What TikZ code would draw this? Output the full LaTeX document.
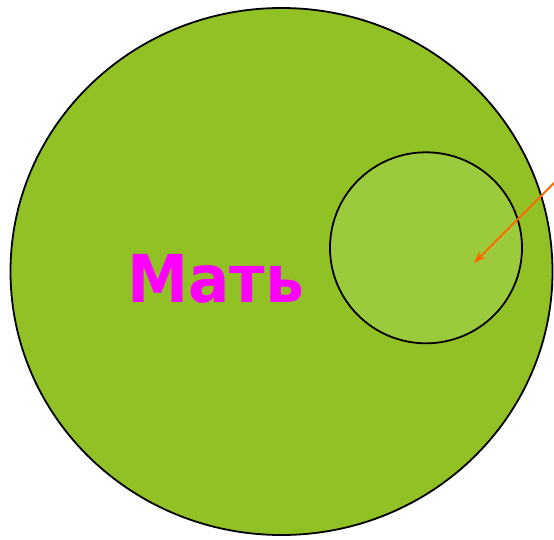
\documentclass[tikz,border=0pt]{standalone}
\usepackage{fontspec}
\setmainfont{DejaVu Sans}
\usetikzlibrary{arrows.meta}
\definecolor{bigg}{HTML}{92C126}
\definecolor{smallg}{HTML}{9BCA3C}
\definecolor{mag}{HTML}{FF00FF}
\definecolor{orng}{HTML}{FF6A00}
\tikzset{
  circ/.style={draw=black, line width=1.8pt},
  lbl/.style={text=mag, font=\bfseries\fontsize{66}{66}\selectfont, inner sep=0pt, anchor=base, xscale=0.93},
  ptr/.style={draw=orng, line width=1.8pt, -{Stealth[length=12pt,width=9pt]}}
}
\begin{document}
\begin{tikzpicture}[x=1pt,y=-1pt]
\useasboundingbox (0,0) rectangle (554,539);
\path[circ, fill=bigg] (281.5,271.5) ellipse [x radius=271, y radius=263.5];
\path[circ, fill=smallg] (426,247.8) ellipse [x radius=96, y radius=95.5];
\node[lbl] (txt) at (215.5,302) {Мать};
\coordinate (src) at (556,181);
\coordinate (dst) at (474,263);
\draw[ptr] (src) -- (dst);
\end{tikzpicture}
\end{document}
